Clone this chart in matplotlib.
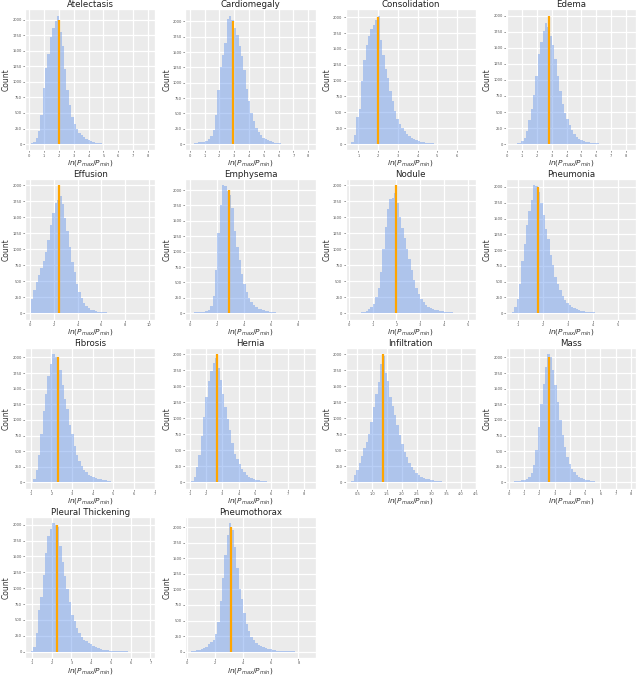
import matplotlib
matplotlib.use("Agg")
import matplotlib.pyplot as plt
from matplotlib.ticker import MultipleLocator
import numpy as np

names = ["Atelectasis", "Cardiomegaly", "Consolidation", "Edema",
         "Effusion", "Emphysema", "Nodule", "Pneumonia",
         "Fibrosis", "Hernia", "Infiltration", "Mass",
         "Pleural Thickening", "Pneumothorax"]

# left edge of first bin and bin width, per panel
bin_start = [0.1, 0.1, 0.65, 0.3, 0.05, 0.1, 0.1, 0.75, 1.0, 1.1, 0.3, 0.2, 0.95, 0.3]
bin_width = [0.16, 0.16, 0.12, 0.16, 0.2, 0.175, 0.1, 0.095, 0.115, 0.145, 0.08, 0.155, 0.12, 0.17]
# position of the orange marker line
medians = [1.98, 2.92, 1.98, 2.83, 2.40, 2.91, 1.97, 1.82, 2.32, 2.70, 1.36, 2.65, 2.29, 3.15]
x_steps = [1, 1, 1, 1, 2, 2, 1, 1, 1, 1, 0.5, 1, 1, 2]

atelectasis = [15, 40, 90, 210, 470, 900, 1220, 1450, 1720, 1860, 1980, 2060, 1800, 1580,
               1200, 870, 620, 430, 320, 240, 180, 140, 110, 85, 60, 45, 32, 24, 16, 11,
               7, 5, 4, 3, 2, 2, 1, 1, 1, 1, 0, 0, 0, 0, 0, 0, 0, 0, 0, 1]
cardiomegaly = [5, 15, 25, 30, 30, 35, 50, 80, 130, 230, 470, 880, 1250, 1450, 1640, 2040,
                2090, 2030, 1900, 1780, 1600, 1430, 1200, 900, 700, 500, 380, 270, 200, 140,
                100, 80, 65, 45, 33, 25, 17, 12, 9, 7, 5, 4, 3, 2, 2, 1, 1, 1, 0, 1]
consolidation = [25, 150, 430, 560, 1000, 1330, 1560, 1700, 1810, 1870, 1950, 2020, 1640,
                 1400, 1190, 1040, 830, 680, 520, 400, 320, 250, 200, 160, 125, 100, 78, 60,
                 48, 38, 30, 24, 18, 14, 10, 8, 6, 5, 4, 3, 3, 2, 2, 1, 1, 1, 1, 0, 0, 1]
edema = [2, 5, 10, 20, 50, 100, 200, 380, 540, 760, 1060, 1400, 1600, 1760, 1890, 1820,
         1680, 1540, 1320, 1060, 830, 620, 490, 390, 290, 220, 160, 115, 85, 65, 50, 38,
         28, 22, 17, 13, 10, 8, 6, 5, 4, 3, 3, 2, 2, 1, 1, 1, 1, 1]
effusion = [220, 370, 490, 590, 700, 810, 960, 1140, 1370, 1560, 1720, 1770, 1830, 1700,
            1480, 1280, 1040, 800, 640, 450, 330, 235, 160, 110, 80, 58, 45, 33, 26, 20,
            15, 12, 9, 7, 5, 4, 3, 3, 2, 2, 1, 1, 1, 1, 0, 0, 0, 0, 0, 1]
emphysema = [5, 15, 20, 22, 22, 22, 30, 60, 115, 280, 700, 1300, 1750, 2080, 2070, 1990,
             1920, 1700, 1330, 1080, 860, 630, 470, 350, 255, 180, 130, 95, 75, 65, 50, 40,
             32, 25, 19, 15, 12, 9, 6, 5, 4, 3, 2, 2, 1, 1, 1, 0, 0, 1]
nodule = [2, 3, 5, 8, 15, 25, 40, 60, 90, 150, 260, 400, 640, 1000, 1350, 1620, 1780,
          1800, 1880, 1720, 1500, 1330, 1170, 1010, 840, 670, 520, 400, 300, 230, 170,
          130, 105, 85, 70, 55, 45, 37, 30, 24, 19, 15, 12, 9, 7, 5, 4, 3, 2, 1]
pneumonia = [20, 100, 230, 470, 820, 1100, 1400, 1620, 1790, 2030, 2010, 1920, 1750, 1550,
             1330, 1180, 930, 760, 570, 470, 370, 275, 210, 160, 125, 100, 80, 65, 50, 40,
             33, 27, 22, 17, 13, 10, 8, 6, 5, 4, 3, 3, 2, 2, 1, 1, 1, 0, 0, 1]
fibrosis = [10, 60, 200, 440, 780, 1150, 1420, 1700, 1900, 2050, 2000, 1990, 1800, 1560,
            1340, 1170, 920, 770, 590, 440, 340, 260, 200, 160, 125, 100, 85, 72, 58, 48,
            40, 34, 26, 20, 15, 12, 9, 7, 6, 5, 4, 3, 2, 2, 1, 1, 1, 0, 0, 1]
hernia = [20, 80, 240, 430, 720, 1020, 1330, 1580, 1740, 1870, 1940, 1780, 1600, 1380,
          1180, 990, 820, 610, 450, 370, 280, 210, 160, 115, 90, 70, 55, 45, 35, 28, 22,
          17, 13, 10, 8, 6, 5, 4, 3, 3, 2, 2, 1, 1, 1, 1, 0, 0, 0, 1]
infiltration = [30, 110, 190, 310, 410, 530, 630, 760, 950, 1180, 1380, 1560, 1850, 1980,
                1700, 1580, 1340, 1190, 1050, 900, 740, 600, 480, 390, 300, 240, 190, 150,
                115, 90, 75, 60, 50, 40, 33, 27, 22, 18, 14, 11, 9, 7, 5, 4, 3, 2, 2, 1, 1, 1]
mass = [10, 20, 25, 30, 35, 45, 60, 90, 150, 280, 520, 880, 1250, 1580, 1850, 2050, 2000,
        1800, 1560, 1280, 1000, 760, 560, 410, 300, 220, 160, 120, 90, 70, 55, 42, 32, 25,
        19, 15, 11, 8, 6, 5, 4, 3, 2, 2, 1, 1, 1, 0, 0, 1]
pleural_thickening = [10, 80, 300, 650, 860, 1200, 1560, 1830, 1940, 2020, 2000, 1960, 1660,
                      1420, 1190, 990, 780, 580, 480, 380, 290, 230, 190, 165, 140, 115, 90,
                      70, 52, 40, 30, 24, 18, 14, 11, 8, 6, 5, 4, 3, 3, 2, 2, 1, 1, 1, 0,
                      0, 0, 1]
pneumothorax = [5, 15, 25, 30, 40, 55, 75, 120, 150, 190, 280, 480, 820, 1180, 1560, 1880,
                2060, 1950, 1680, 1350, 1010, 840, 620, 450, 330, 240, 180, 140, 112, 90, 72,
                58, 46, 36, 28, 22, 17, 13, 10, 8, 6, 5, 4, 3, 2, 2, 1, 1, 0, 1]

counts = [atelectasis, cardiomegaly, consolidation, edema, effusion, emphysema, nodule,
          pneumonia, fibrosis, hernia, infiltration, mass, pleural_thickening, pneumothorax]

plt.style.use("ggplot")
fig, axes = plt.subplots(4, 4, figsize=(6.4, 6.77), dpi=100)
fig.subplots_adjust(left=0.039, right=0.994, top=0.986, bottom=0.028,
                    wspace=0.23, hspace=0.20)

for i, ax in enumerate(axes.flat):
    if i >= len(names):
        ax.axis("off")
        continue
    c = np.array(counts[i], dtype=float)
    edges = bin_start[i] + bin_width[i] * np.arange(len(c) + 1)
    ax.set_facecolor("#EBEBEB")
    ax.hist(edges[:-1], bins=edges, weights=c, color="cornflowerblue", alpha=0.45)
    ax.vlines(medians[i], 0, 2000, color="orange", lw=1.6)
    ax.use_sticky_edges = False
    ax.margins(x=0.05, y=0.05)
    ax.set_yticks(np.arange(0, 2001, 250))
    ax.xaxis.set_major_locator(MultipleLocator(x_steps[i]))
    ax.tick_params(labelsize=2.6, length=1.5, width=0.5, pad=0.8, colors="#555555")
    ax.grid(True, color="white", lw=0.9)
    ax.set_title(names[i], fontsize=6.2, pad=1.5, color="#222222")
    ax.set_ylabel("Count", fontsize=5.5, labelpad=1, color="#333333")
    ax.set_xlabel(r"$ln(P_{max}/P_{min})$", fontsize=5.3, labelpad=0.2, color="#333333")

fig.savefig("out.png", dpi=100)
